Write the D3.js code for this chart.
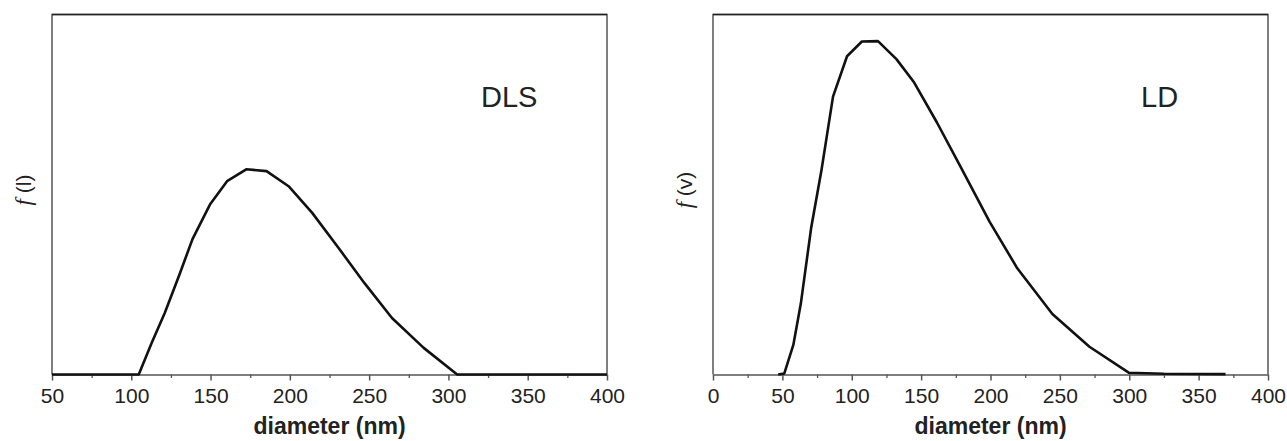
<!DOCTYPE html>
<html>
<head>
<meta charset="utf-8">
<script src="https://cdn.jsdelivr.net/npm/d3@7"></script>
<style>
  body { margin: 0; background: #fff; }
  svg { display: block; }
</style>
</head>
<body>
<div id="chart"></div>
<script>
// DLS curve (intensity distribution)
const dlsDiameter = [50, 104.7, 112.9, 121.1, 130.4, 138.6, 149.6, 160.4, 172.5, 185.3, 199.2, 214.1, 231.8, 247.2, 264.4, 284.4, 305.5, 400];
const dlsIntensity = [0, 0, 0.088, 0.171, 0.278, 0.376, 0.472, 0.537, 0.570, 0.565, 0.523, 0.449, 0.345, 0.253, 0.157, 0.074, 0, 0];

// LD curve (volume distribution)
const ldDiameter = [47, 51.4, 57.9, 63.3, 70.7, 78.2, 86.5, 96.6, 107.3, 118.9, 132.2, 145.0, 161.4, 177.7, 199.4, 219.3, 244.6, 271.3, 299.6, 324.8, 369.4];
const ldVolume = [0, 0.003, 0.082, 0.197, 0.406, 0.568, 0.772, 0.884, 0.925, 0.926, 0.876, 0.811, 0.700, 0.582, 0.424, 0.295, 0.168, 0.077, 0.005, 0.002, 0.001];

const dlsTicks = [50, 100, 150, 200, 250, 300, 350, 400];
const ldTicks = [0, 50, 100, 150, 200, 250, 300, 350, 400];

const W = 1287, H = 441;
const svg = d3.select("#chart").append("svg")
    .attr("width", W)
    .attr("height", H);

const frameColor = "#555";

function drawPanel(p) {
  const x = d3.scaleLinear().domain(p.xDomain).range([p.left, p.left + 555]);
  const y = d3.scaleLinear().domain([0, 1]).range([374.5, 14.5]);

  const g = svg.append("g");

  // minor ticks every 25
  const minor = d3.range(p.xDomain[0], p.xDomain[1] + 1, 25).filter(v => p.ticks.indexOf(v) < 0);
  g.append("g")
    .attr("transform", `translate(0, ${y(0)})`)
    .call(d3.axisBottom(x).tickValues(minor).tickSize(3.5).tickFormat(""))
    .call(a => a.select(".domain").remove())
    .selectAll("line").attr("stroke", frameColor).attr("stroke-width", 1.3);

  // major ticks
  const ax = g.append("g")
    .attr("transform", `translate(0, ${y(0)})`)
    .call(d3.axisBottom(x).tickValues(p.ticks).tickSize(6).tickPadding(8).tickSizeOuter(0));
  ax.select(".domain").attr("stroke", frameColor).attr("stroke-width", 1.5);
  ax.selectAll(".tick line").attr("stroke", frameColor).attr("stroke-width", 1.5);
  ax.selectAll("text")
    .attr("fill", "#222")
    .style("font-family", "'Liberation Sans', Arial, sans-serif")
    .style("font-size", "21px");

  // frame
  g.append("path")
    .attr("d", `M${x.range()[0]},${y(0)}V${y(1)}H${x.range()[1]}V${y(0)}`)
    .attr("fill", "none")
    .attr("stroke", frameColor)
    .attr("stroke-width", 1.5);
  g.append("line")
    .attr("x1", x.range()[0]).attr("x2", x.range()[1])
    .attr("y1", y(1)).attr("y2", y(1))
    .attr("stroke", "#222").attr("stroke-width", 1.5);

  // curve
  const pts = p.xs.map((d, i) => [d, p.ys[i]]);
  g.append("path")
    .datum(pts)
    .attr("fill", "none")
    .attr("stroke", "#111")
    .attr("stroke-width", 2.6)
    .attr("stroke-linejoin", "round")
    .attr("d", d3.line().x(d => x(d[0])).y(d => y(d[1])));

  // x label
  g.append("text")
    .attr("x", (x.range()[0] + x.range()[1]) / 2)
    .attr("y", 434)
    .attr("text-anchor", "middle")
    .attr("fill", "#222")
    .style("font-family", "'Liberation Sans', Arial, sans-serif")
    .style("font-weight", "bold")
    .style("font-size", "23px")
    .text("diameter (nm)");

  // y label
  const yl = g.append("text")
    .attr("transform", `translate(${x.range()[0] - 21}, 190) rotate(-90)`)
    .attr("text-anchor", "middle")
    .attr("fill", "#222")
    .style("font-size", "23px");
  yl.append("tspan")
    .style("font-family", "'Liberation Serif', 'Times New Roman', serif")
    .style("font-style", "italic")
    .text("f");
  yl.append("tspan")
    .style("font-family", "'Liberation Sans', Arial, sans-serif")
    .style("font-size", "21px")
    .text(" " + p.yUnit);

  // panel label
  g.append("text")
    .attr("x", p.labelX)
    .attr("y", 107)
    .attr("fill", "#222")
    .style("font-family", "'Liberation Sans', Arial, sans-serif")
    .style("font-size", "29px")
    .text(p.label);
}

drawPanel({ left: 52, xDomain: [50, 400], ticks: dlsTicks, xs: dlsDiameter, ys: dlsIntensity, yUnit: "(l)", label: "DLS", labelX: 481 });
drawPanel({ left: 713, xDomain: [0, 400], ticks: ldTicks, xs: ldDiameter, ys: ldVolume, yUnit: "(v)", label: "LD", labelX: 1141 });
</script>
</body>
</html>
